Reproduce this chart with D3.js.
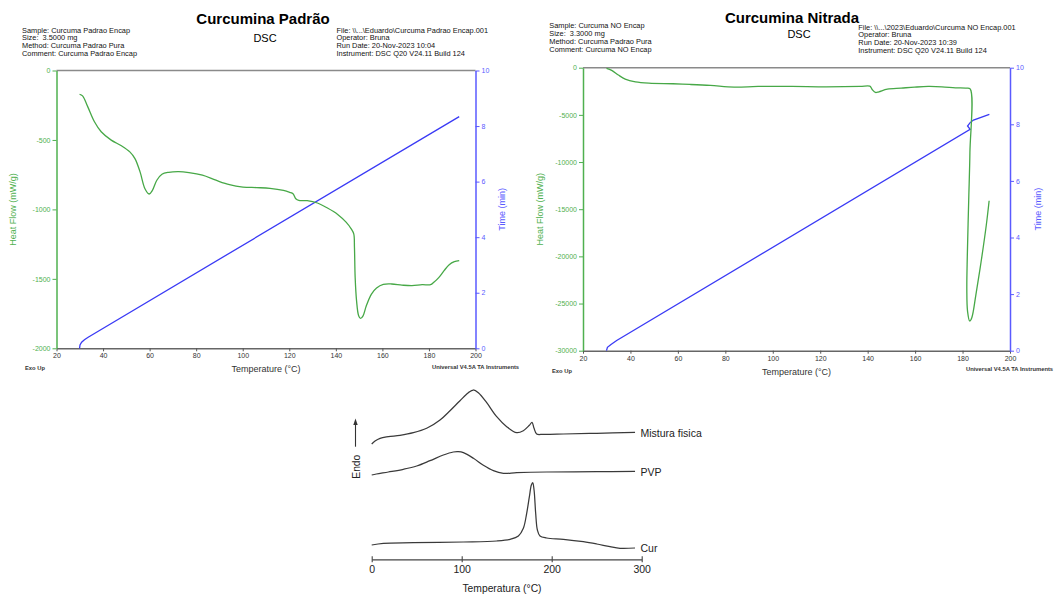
<!DOCTYPE html>
<html>
<head>
<meta charset="utf-8">
<script src="https://cdn.jsdelivr.net/npm/d3@7"></script>
<style>
  html, body { margin: 0; padding: 0; background: #fff; }
  svg { display: block; font-family: Arial, "Liberation Sans", sans-serif; }
  svg text { white-space: pre; }
</style>
</head>
<body>
<svg id="chart" width="1054" height="595"></svg>
<script>
// ---- Curcumina Padrão: heat flow (°C, mW/g) and elapsed time (°C, min)
const padraoHeatFlow = [
  [29.9,-171],[31.2,-183],[33.4,-260],[36.3,-369],[39.2,-441],[43.5,-501],[47.9,-542],
  [51.5,-586],[53.7,-634],[55.9,-730],[58.0,-851],[59.8,-889],[61.2,-863],[63.1,-790],
  [65.3,-747],[68.2,-733],[72.5,-728],[76.9,-735],[82.7,-754],[88.5,-790],[94.3,-822],
  [100.1,-839],[105.9,-843],[111.7,-848],[117.5,-863],[120.2,-877],[121.6,-887],
  [122.8,-923],[124.1,-935],[127.7,-937],[132.1,-954],[136.4,-990],[140.8,-1036],
  [144.4,-1092],[146.6,-1140],[147.7,-1176],[148.0,-1272],[148.3,-1489],[148.9,-1658],
  [149.8,-1766],[150.6,-1785],[151.7,-1766],[153.1,-1694],[155.3,-1610],[157.5,-1566],
  [160.4,-1540],[164.0,-1537],[168.4,-1545],[172.7,-1549],[177.1,-1542],[180.7,-1542],
  [182.1,-1525],[184.3,-1489],[186.5,-1441],[188.7,-1398],[190.9,-1376],[193.0,-1369]
];
const padraoTime = [
  [29.9,0.00],[30.1,0.12],[30.8,0.22],[32.0,0.31],[33.6,0.40],[193.0,8.34]
];

// ---- Curcumina Nitrada
const nitradaHeatFlow = [
  [29.9,-71],[32.1,-284],[34.9,-781],[37.8,-1207],[42.1,-1491],[47.8,-1633],[57.9,-1704],
  [65.1,-1775],[73.7,-1882],[83.7,-2059],[93.8,-1988],[108.1,-1988],[122.5,-2024],
  [136.8,-1988],[140.9,-1953],[141.9,-2308],[143.3,-2627],[144.7,-2556],[148.3,-2272],
  [154.1,-2166],[159.8,-2059],[165.5,-1988],[171.3,-2024],[177.0,-2130],[181.3,-2166],
  [183.2,-2240],[183.1,-9000],[182.6,-14000],[182.0,-20000],[181.8,-23500],
  [182.1,-25800],[183.0,-26850],[183.9,-26500],[185.6,-24100],[187.8,-20600],
  [190.0,-16700],[191.2,-14100]
];
const nitradaTime = [
  [29.9,0.00],[30.3,0.12],[31.8,0.22],[34.2,0.36],[183.2,7.82],[182.1,7.94],
  [183.2,8.06],[184.6,8.15],[191.3,8.35]
];

// ---- Axis ticks
const tempTicks = [20,40,60,80,100,120,140,160,180,200];
const timeTicks = [0,2,4,6,8,10];
const padraoFlowTicks = [0,-500,-1000,-1500,-2000];
const nitradaFlowTicks = [0,-5000,-10000,-15000,-20000,-25000,-30000];

// ---- Header texts
const padraoInfoLeft = ["Sample: Curcuma Padrao Encap","Size:  3.5000 mg","Method: Curcuma Padrao Pura","Comment: Curcuma Padrao Encap"];
const padraoInfoRight = ["File: \\\\...\\Eduardo\\Curcuma Padrao Encap.001","Operator: Bruna","Run Date: 20-Nov-2023 10:04","Instrument: DSC Q20 V24.11 Build 124"];
const nitradaInfoLeft = ["Sample: Curcuma NO Encap","Size:  3.3000 mg","Method: Curcuma Padrao Pura","Comment: Curcuma NO Encap"];
const nitradaInfoRight = ["File: \\\\...\\2023\\Eduardo\\Curcuma NO Encap.001","Operator: Bruna","Run Date: 20-Nov-2023 10:39","Instrument: DSC Q20 V24.11 Build 124"];

// ---- Comparison curves (temperature °C, endothermic signal, arbitrary units)
const misturaCurve = [
  [0,116],[3.7,119],[9.3,121.7],[18.5,123.3],[31.4,124.7],[46.3,127.3],[61.1,131.7],
  [75.9,140],[87,149.3],[98.1,159.3],[107.4,167.3],[112.9,170],[118.5,167.3],[127.8,157.3],
  [138.9,143.3],[150,133.3],[161.1,127.3],[168.5,129.3],[175.2,134.7],[178.1,137.7],
  [180.4,131.7],[183.3,126],[190.7,125.7],[213,126],[250,126.7],[292.6,127.7]
];
const pvpCurve = [
  [0,85],[5.2,86],[18.5,88],[35.2,90.7],[50,94],[64.8,99.3],[79.6,105],[90.7,108],
  [96.3,108.3],[101.9,107.3],[113,101.7],[124.1,94.7],[135.2,89.3],[146.3,86.7],
  [161.1,87.3],[194.4,88],[250,88.3],[292.6,88.7]
];
const curCurve = [
  [0,15],[13,16.7],[46.3,17.3],[101.9,18],[138.9,19],[153.7,20.7],[163,24],[168.5,31.7],
  [172.2,46.7],[175.2,63.3],[177.4,75],[178.9,77.3],[180.4,70],[182.2,46.7],[184.1,30],
  [187,24],[194.4,22],[213,20.7],[235.2,18.3],[250,16],[264.8,13.3],[275.9,11.7],[292.6,12]
];
const seriesNames = ["Mistura fisica","PVP","Cur"];
const compTicks = [0,100,200,300];
const compMinorTicks = [50,150,250];

const svg = d3.select("#chart");
svg.append("rect").attr("width",1054).attr("height",595).attr("fill","#fff");

const GREEN = "#4fb04f", GREEN_LINE = "#47a847", BLUE = "#5a5aff", BLUE_LINE = "#3a3af5";
const FONT = 'Arial, "Liberation Sans", sans-serif';

function range(a, b, step) {
  const out = [];
  for (let v = a; v <= b + 1e-9; v += step) out.push(+v.toFixed(6));
  return out;
}

function dscPanel(cfg) {
  const g = svg.append("g");
  const x = d3.scaleLinear([20, 200], [cfg.x0, cfg.x1]);
  const yF = d3.scaleLinear([cfg.flowMin, 0], [cfg.y1, cfg.y0]);
  const yT = d3.scaleLinear([0, 10], [cfg.y1, cfg.y0]);

  // header
  g.append("text").attr("x", cfg.titleX).attr("y", cfg.titleY).attr("text-anchor","middle")
    .attr("font-size", 15).attr("font-weight","bold").attr("fill","#000").text(cfg.title);
  g.append("text").attr("x", cfg.dscX).attr("y", cfg.dscY).attr("text-anchor","middle")
    .attr("font-size", 11).attr("fill","#000").text("DSC");
  cfg.infoLeft.forEach((t, i) => g.append("text").attr("x", cfg.leftX).attr("y", cfg.leftY + i * 7.75)
    .attr("font-size", 7.4).attr("fill","#111").text(t));
  cfg.infoRight.forEach((t, i) => g.append("text").attr("x", cfg.rightX).attr("y", cfg.rightY + i * 7.75)
    .attr("font-size", 7.4).attr("fill","#111").text(t));

  // frame top
  g.append("line").attr("x1", cfg.x0).attr("x2", cfg.x1).attr("y1", cfg.y0).attr("y2", cfg.y0)
    .attr("stroke", "#8a8a8a").attr("stroke-width", 1.6);

  // bottom axis
  const bx = g.append("g").attr("transform", `translate(0,${cfg.y1})`);
  bx.call(d3.axisBottom(x).tickValues(range(20,200,5)).tickSize(2).tickSizeOuter(0).tickFormat(""));
  bx.call(d3.axisBottom(x).tickValues(tempTicks).tickSize(3).tickSizeOuter(0).tickPadding(2).tickFormat(d3.format("d")));
  bx.selectAll(".domain").attr("stroke","#666").attr("stroke-width",1.5);
  bx.selectAll(".tick line").attr("stroke","#555");
  bx.selectAll("text").attr("font-size", 7).attr("font-family", FONT).attr("fill","#333");

  // left axis (heat flow)
  const step = (cfg.flowTicks[0] - cfg.flowTicks[1]) / 4;
  const ly = g.append("g").attr("transform", `translate(${cfg.x0},0)`);
  ly.call(d3.axisLeft(yF).tickValues(range(cfg.flowMin, 0, step)).tickSize(2).tickSizeOuter(0).tickFormat(""));
  ly.call(d3.axisLeft(yF).tickValues(cfg.flowTicks).tickSize(4).tickSizeOuter(0).tickPadding(2).tickFormat(d3.format("d")));
  ly.selectAll(".domain").attr("stroke", GREEN).attr("stroke-width",1.5);
  ly.selectAll(".tick line").attr("stroke", GREEN);
  ly.selectAll("text").attr("font-size", 7).attr("font-family", FONT).attr("fill", GREEN)
    .text(function() { return d3.select(this).text().replace("\u2212","-"); });

  // right axis (time)
  const ry = g.append("g").attr("transform", `translate(${cfg.x1},0)`);
  ry.call(d3.axisRight(yT).tickValues(range(0,10,0.5)).tickSize(2).tickSizeOuter(0).tickFormat(""));
  ry.call(d3.axisRight(yT).tickValues(timeTicks).tickSize(4).tickSizeOuter(0).tickPadding(2).tickFormat(d3.format("d")));
  ry.selectAll(".domain").attr("stroke", BLUE).attr("stroke-width",1.5);
  ry.selectAll(".tick line").attr("stroke", BLUE);
  ry.selectAll("text").attr("font-size", 7).attr("font-family", FONT).attr("fill", BLUE);

  // axis titles
  g.append("text").attr("transform", `translate(${cfg.flowTitleX},${(cfg.y0 + cfg.y1) / 2}) rotate(-90)`)
    .attr("text-anchor","middle").attr("dominant-baseline","middle")
    .attr("font-size", 9).attr("fill", GREEN).text("Heat Flow (mW/g)");
  g.append("text").attr("transform", `translate(${cfg.timeTitleX},${(cfg.y0 + cfg.y1) / 2}) rotate(-90)`)
    .attr("text-anchor","middle").attr("dominant-baseline","middle")
    .attr("font-size", 9).attr("fill", BLUE).text("Time (min)");
  g.append("text").attr("x", (cfg.x0 + cfg.x1) / 2).attr("y", cfg.y1 + 24)
    .attr("text-anchor","middle").attr("font-size", 9).attr("fill","#333").text("Temperature (°C)");
  g.append("text").attr("x", cfg.exoX).attr("y", cfg.y1 + 22)
    .attr("font-size", 5.8).attr("font-weight","bold").attr("fill","#333").text("Exo Up");
  g.append("text").attr("x", cfg.univX).attr("y", cfg.y1 + 20.5)
    .attr("font-size", 5.8).attr("font-weight","bold").attr("fill","#333").text("Universal V4.5A TA Instruments");

  // curves
  const lineF = d3.line().x(d => x(d[0])).y(d => yF(d[1])).curve(d3.curveCatmullRom.alpha(0.5));
  const lineT = d3.line().x(d => x(d[0])).y(d => yT(d[1])).curve(d3.curveLinear);
  g.append("path").datum(cfg.time).attr("d", lineT).attr("fill","none")
    .attr("stroke", BLUE_LINE).attr("stroke-width", 1.3);
  g.append("path").datum(cfg.flow).attr("d", lineF).attr("fill","none")
    .attr("stroke", GREEN_LINE).attr("stroke-width", 1.3);
}

dscPanel({
  title: "Curcumina Padrão", titleX: 263, titleY: 23.5, dscX: 265, dscY: 42,
  infoLeft: padraoInfoLeft, infoRight: padraoInfoRight,
  leftX: 22, leftY: 32.5, rightX: 336.5, rightY: 32.5,
  x0: 56.5, x1: 475.5, y0: 70.5, y1: 348.3,
  flowMin: -2000, flowTicks: padraoFlowTicks,
  flowTitleX: 14, timeTitleX: 503, exoX: 25, univX: 432,
  flow: padraoHeatFlow, time: padraoTime
});

dscPanel({
  title: "Curcumina Nitrada", titleX: 792, titleY: 22.7, dscX: 799, dscY: 38.3,
  infoLeft: nitradaInfoLeft, infoRight: nitradaInfoRight,
  leftX: 549.3, leftY: 28.3, rightX: 858.3, rightY: 29.5,
  x0: 583, x1: 1010, y0: 67.7, y1: 350.7,
  flowMin: -30000, flowTicks: nitradaFlowTicks,
  flowTitleX: 540.5, timeTitleX: 1038.5, exoX: 552, univX: 966,
  flow: nitradaHeatFlow, time: nitradaTime
});

// ---- Comparison chart: Mistura fisica / PVP / Cur
const xB = d3.scaleLinear([0, 300], [371.7, 641.7]);
const yB = d3.scaleLinear([0, 180], [560, 380]);
const comp = svg.append("g");
const ax = comp.append("g").attr("transform", "translate(0,559.3)");
ax.call(d3.axisBottom(xB).tickValues(compMinorTicks).tickSize(-2.5).tickSizeOuter(0).tickFormat(""));
ax.call(d3.axisBottom(xB).tickValues(compTicks).tickSize(3).tickSizeOuter(0).tickPadding(3).tickFormat(d3.format("d")));
ax.selectAll(".domain").attr("stroke","#444").attr("stroke-width",1.2);
ax.selectAll(".tick line").attr("stroke","#444").attr("stroke-width",1.1);
ax.selectAll(".tick").filter(d => compTicks.includes(d)).select("line").attr("y1", -3);
ax.selectAll("text").attr("font-size", 10.5).attr("font-family", FONT).attr("fill","#222");
comp.append("text").attr("x", 502).attr("y", 592).attr("text-anchor","middle")
  .attr("font-size", 10.3).attr("fill","#222").text("Temperatura (°C)");

const lineB = d3.line().x(d => xB(d[0])).y(d => yB(d[1])).curve(d3.curveCatmullRom.alpha(0.5));
[misturaCurve, pvpCurve, curCurve].forEach((c, i) => {
  comp.append("path").datum(c).attr("d", lineB).attr("fill","none")
    .attr("stroke","#3a3a3a").attr("stroke-width",1.25);
  const last = c[c.length - 1];
  comp.append("text").attr("x", xB(last[0]) + 5.5).attr("y", yB(last[1]) + 1.5)
    .attr("dominant-baseline","middle").attr("font-size", 10.5).attr("fill","#222").text(seriesNames[i]);
});

// "Endo" direction marker
comp.append("line").attr("x1", 355.5).attr("x2", 355.5).attr("y1", 446.7).attr("y2", 424)
  .attr("stroke","#333").attr("stroke-width",1.1);
comp.append("path").attr("d", "M355.5,418.5 L353.3,425 L357.7,425 Z").attr("fill","#333");
comp.append("text").attr("transform","translate(359.5,466.7) rotate(-90)").attr("text-anchor","middle")
  .attr("font-size", 10.3).attr("fill","#222").text("Endo");
</script>
</body>
</html>
